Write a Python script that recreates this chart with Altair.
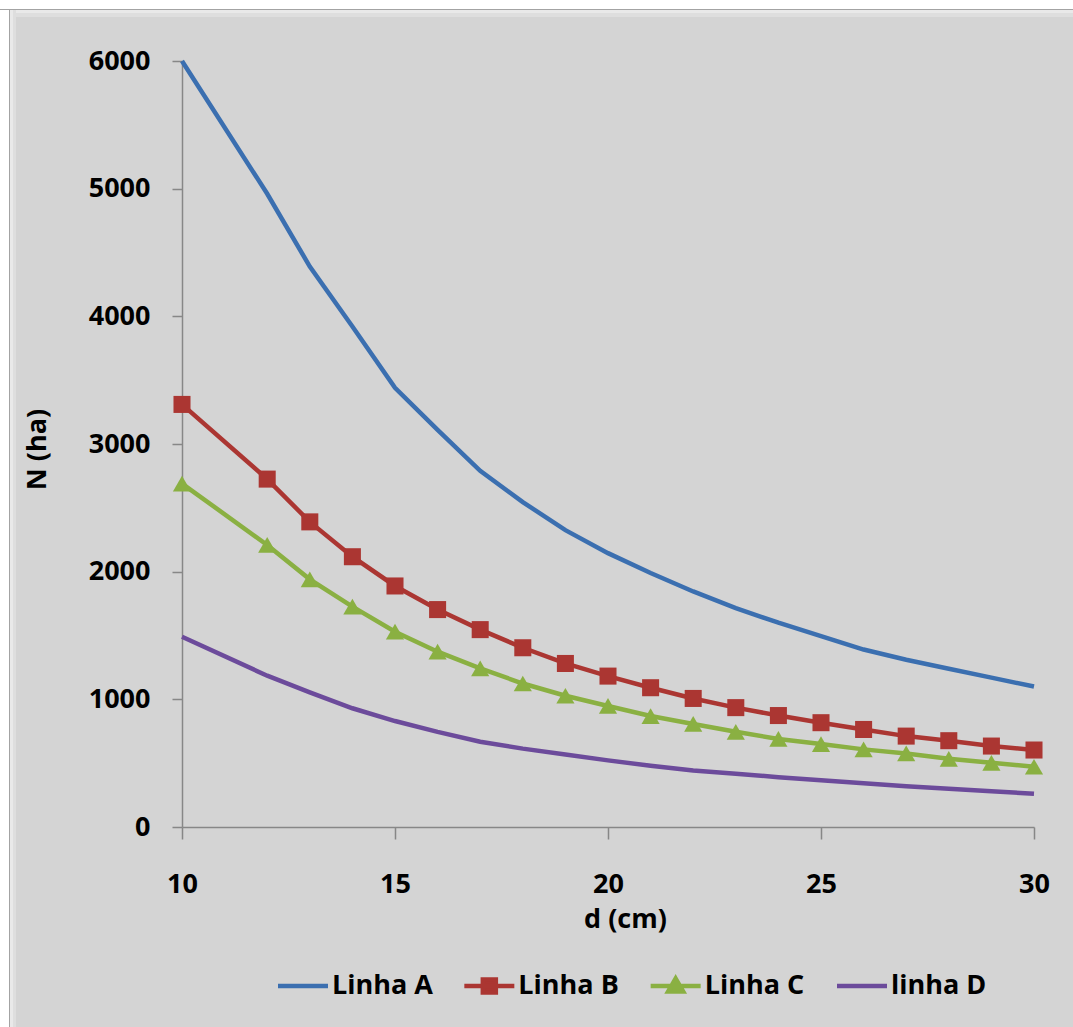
import altair as alt
import pandas as pd

# ---- data ----
d_values = [10, 12, 13, 14, 15, 16, 17, 18, 19, 20, 21, 22, 23, 24, 25, 26, 27, 28, 29, 30]
linha_a = [6000, 4960, 4390, 3920, 3440, 3110, 2790, 2545, 2325, 2145, 1990, 1845, 1715, 1600, 1495, 1390, 1310, 1240, 1170, 1100]
linha_b = [3310, 2725, 2390, 2117, 1888, 1703, 1546, 1404, 1281, 1182, 1091, 1007, 935, 873, 817, 764, 712, 676, 634, 603]
linha_c = [2690, 2209, 1940, 1726, 1530, 1373, 1242, 1124, 1028, 948, 869, 807, 746, 690, 650, 608, 576, 534, 503, 472]
linha_d = [1490, 1185, 1055, 930, 830, 745, 668, 614, 568, 522, 480, 442, 418, 390, 366, 343, 320, 300, 280, 260]

series_names = ["Linha A", "Linha B", "Linha C", "linha D"]
series_colors = ["#3b6fb0", "#ab3632", "#8ab042", "#6c4b9b"]
x_ticks = [10, 15, 20, 25, 30]
y_ticks = [0, 1000, 2000, 3000, 4000, 5000, 6000]

rows = []
for name, vals in zip(series_names, [linha_a, linha_b, linha_c, linha_d]):
    for dv, nv in zip(d_values, vals):
        rows.append({"d": dv, "N": nv, "series": name})
df = pd.DataFrame(rows)
legend_df = pd.DataFrame({"series": series_names})

FONT = "Open Sans"
FS = 27
AXIS_GRAY = "#878787"

# legend symbols: line, line+square, line+triangle, line
legend_paths = [
    "M-1,0L1,0",
    "M-1,0L1,0M-0.26,-0.26L0.26,-0.26L0.26,0.26L-0.26,0.26Z",
    "M-1,0L1,0M0,-0.3L0.3,0.22L-0.3,0.22Z",
    "M-1,0L1,0",
]

color_scale = alt.Scale(domain=series_names, range=series_colors)

x_enc = alt.X(
    "d:Q",
    scale=alt.Scale(domain=[10, 30], nice=False, zero=False),
    axis=alt.Axis(
        values=x_ticks, title="d (cm)", grid=False, tickSize=12, labelPadding=32,
        labelFlush=False, labelOverlap=False,
        titleX=443, titleY=100, titleBaseline="alphabetic", titleAlign="center",
    ),
)
y_enc = alt.Y(
    "N:Q",
    scale=alt.Scale(domain=[0, 6000], nice=False),
    axis=alt.Axis(
        values=y_ticks, format="d", title="N (ha)", grid=False, tickSize=10, labelPadding=22,
        labelFlush=False, labelOverlap=False,
        titleAngle=270, titleX=-137, titleY=388, titleBaseline="alphabetic", titleAlign="center",
    ),
)

base = alt.Chart(df)

lines = base.mark_line(strokeWidth=4.5).encode(
    x=x_enc, y=y_enc,
    color=alt.Color("series:N", scale=color_scale, legend=None),
)

squares = base.transform_filter(alt.datum.series == "Linha B").mark_point(
    shape="square", filled=True, size=290, opacity=1
).encode(x=x_enc, y=y_enc, color=alt.Color("series:N", scale=color_scale, legend=None))

triangles = base.transform_filter(alt.datum.series == "Linha C").mark_point(
    shape="triangle-up", filled=True, size=330, opacity=1
).encode(x=x_enc, y=y_enc, color=alt.Color("series:N", scale=color_scale, legend=None))

main = alt.layer(lines, squares, triangles)

# legend drawn as marks, positioned through a point scale along the bottom
leg_x = alt.X(
    "series:N",
    scale=alt.Scale(type="point", domain=series_names, range=[121, 680], padding=0),
    axis=None,
)
leg_y = alt.value(925)
leg_base = alt.Chart(legend_df)
leg_symbols = leg_base.mark_point(size=2500, strokeWidth=4.5, opacity=1).encode(
    x=leg_x, y=leg_y,
    shape=alt.Shape("series:N", scale=alt.Scale(domain=series_names, range=legend_paths), legend=None),
    fill=alt.Fill("series:N", scale=alt.Scale(domain=series_names, range=series_colors), legend=None),
    stroke=alt.Stroke("series:N", scale=alt.Scale(domain=series_names, range=series_colors), legend=None),
)
leg_text = leg_base.mark_text(
    align="left", baseline="middle", dx=29, font=FONT, fontSize=FS, fontWeight="bold", color="black"
).encode(x=leg_x, y=leg_y, text="series:N")
legend = alt.layer(leg_symbols, leg_text)

# decorative frame (white margin + bevel) around the grey chart area
one = alt.Data(values=[{"k": 1}])
def deco(color, x, x2, y, y2):
    return alt.Chart(one).mark_rect(color=color).encode(
        x=alt.value(x), x2=alt.value(x2), y=alt.value(y), y2=alt.value(y2)
    )

frame = alt.layer(
    deco("white", -182, 891, -61, -52),
    deco("white", -182, -173, -61, 966),
    deco("#e9e9e9", -172, 891, -51, -48),
    deco("#dedede", -172, 891, -48, -44),
    deco("#e9e9e9", -172, -169, -51, 966),
    deco("#dedede", -169, -166, -51, 966),
    deco("#a3a3a3", -182, 891, -52, -51),
    deco("#a3a3a3", -173, -172, -52, 966),
)

chart = alt.layer(frame, main, legend).resolve_scale(
    x="independent", shape="independent", fill="independent", stroke="independent"
).properties(
    width=852, height=766,
    padding={"left": 182, "top": 61, "right": 39, "bottom": 200},
    autosize=alt.AutoSizeParams(type="none"),
    background="#d4d4d4",
).configure_view(stroke=None).configure_axis(
    domainColor=AXIS_GRAY, domainWidth=1.5, tickColor=AXIS_GRAY, tickWidth=1.5,
    labelFont=FONT, labelFontSize=FS, labelFontWeight="bold", labelColor="black",
    titleFont=FONT, titleFontSize=FS, titleFontWeight="bold", titleColor="black",
)

chart.save("out.html", embed_options={"renderer": "svg", "actions": False})
